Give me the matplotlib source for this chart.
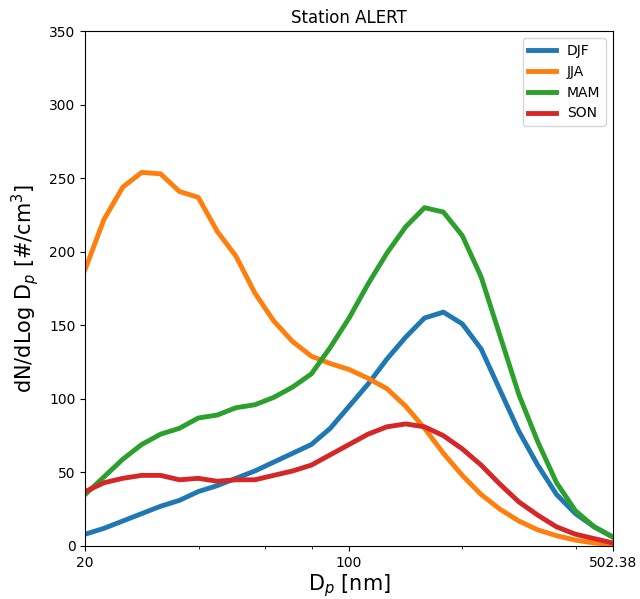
import numpy as np
import matplotlib
matplotlib.use("Agg")
import matplotlib.pyplot as plt
from matplotlib.ticker import FixedLocator, NullFormatter

# diameters: 20 points per decade from 20 to 502.38 nm
n_points = 29
dp = 20 * 10 ** (np.arange(n_points) / 20)

djf = [8, 12, 17, 22, 27, 31, 37, 41, 46, 51, 57, 63, 69, 80, 95, 110, 127, 142, 155, 159, 151, 134, 106, 78, 55, 35, 22, 13, 6]
jja = [188, 222, 244, 254, 253, 241, 237, 214, 197, 172, 153, 139, 129, 124, 120, 114, 107, 95, 80, 63, 48, 35, 25, 17, 11, 7, 4, 2, 1]
mam = [35, 47, 59, 69, 76, 80, 87, 89, 94, 96, 101, 108, 117, 135, 155, 178, 199, 217, 230, 227, 211, 183, 143, 103, 71, 43, 24, 13, 6]
son = [37, 43, 46, 48, 48, 45, 46, 44, 45, 45, 48, 51, 55, 62, 69, 76, 81, 83, 81, 75, 66, 55, 42, 30, 21, 13, 8, 5, 2]

series = [("DJF", djf, "#1f77b4"), ("JJA", jja, "#ff7f0e"),
          ("MAM", mam, "#2ca02c"), ("SON", son, "#d62728")]

major_ticks = [20, 100, 502.38]
major_labels = ["20", "100", "502.38"]
minor_ticks = [40, 60, 80, 200, 400]

fig = plt.figure(figsize=(6.4, 5.99), dpi=100)
ax = fig.add_axes([0.133, 0.0885, 0.825, 0.8595])
for name, vals, col in series:
    ax.plot(dp, vals, color=col, lw=3.5, label=name)

ax.set_xscale("log")
ax.set_xlim(20, 502.38)
ax.set_ylim(0, 350)
ax.xaxis.set_major_locator(FixedLocator(major_ticks))
ax.set_xticklabels(major_labels)
ax.xaxis.set_minor_locator(FixedLocator(minor_ticks))
ax.xaxis.set_minor_formatter(NullFormatter())
ax.set_yticks(np.arange(0, 351, 50))
ax.set_title("Station ALERT", fontsize=12)
ax.set_xlabel("D$_p$ [nm]", fontsize=15, labelpad=2)
ax.set_ylabel("dN/dLog D$_p$ [#/cm$^3$]", fontsize=15, labelpad=6)
ax.legend(loc="upper right", fontsize=10)

fig.savefig("out.png", dpi=100)
